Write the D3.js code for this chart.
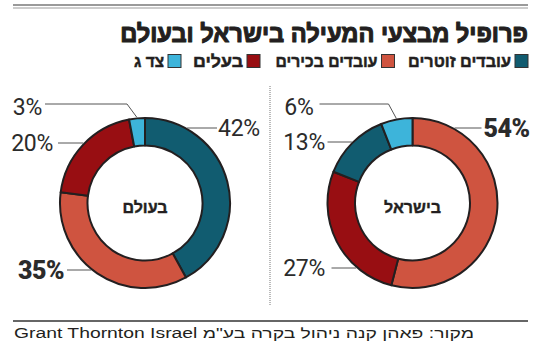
<!DOCTYPE html>
<html>
<head>
<meta charset="utf-8">
<script src="https://cdn.jsdelivr.net/npm/d3@7"></script>
<style>
  html, body { margin: 0; padding: 0; background: #fff; }
  svg { display: block; }
</style>
</head>
<body>
<svg id="chart" width="550" height="343"></svg>
<script>
// ---------- data ----------
const titleText = "פרופיל מבצעי המעילה בישראל ובעולם";
const categories = ["עובדים זוטרים", "עובדים בכירים", "בעלים", "צד ג"];
const regionNames = ["בעולם", "בישראל"];
// values in categories order
const worldValues = [42, 35, 20, 3];
const israelValues = [13, 54, 27, 6];
// drawing order (clockwise from 12 o'clock) as category indices
const worldOrder = [0, 1, 2, 3];
const israelOrder = [1, 2, 0, 3];
const sourceText = "מקור: פאהן קנה ניהול בקרה בע\"מ Grant Thornton Israel";

// ---------- styles / layout ----------
const colors = d3.scaleOrdinal().domain(categories)
  .range(["#115c70", "#cf5440", "#980e12", "#3db4da"]);
const emphasised = categories[1];
const hebFont = "'Liberation Sans', 'DejaVu Sans', sans-serif";
const numFont = "Roboto, 'Liberation Sans', sans-serif";

const svg = d3.select("#chart");

// helper: place a right-aligned text whose width is stretched to fit [right-w, right]
function fitText(parent, txt, right, baseline, width, attrs) {
  const g = parent.append("g");
  const t = g.append("text").attr("x", 0).attr("y", 0)
    .attr("text-anchor", "end").text(txt);
  Object.entries(attrs).forEach(([k, v]) => t.attr(k, v));
  const w = t.node().getComputedTextLength() || width;
  g.attr("transform", `translate(${right},${baseline}) scale(${width / w},1)`);
  return t;
}

// top rules
svg.append("line").attr("x1", 13).attr("x2", 528).attr("y1", 5).attr("y2", 5)
  .attr("stroke", "#9a9a9a").attr("stroke-width", 2);
svg.append("line").attr("x1", 13).attr("x2", 528).attr("y1", 8).attr("y2", 8)
  .attr("stroke", "#9a9a9a").attr("stroke-width", 1);

// title
fitText(svg, titleText, 528, 42, 408, {
  "font-family": hebFont, "font-weight": 900, "font-size": 25, "fill": "#231f20",
  "stroke": "#231f20", "stroke-width": 1.1, "stroke-linejoin": "round"
});

// legend (box to the right of each label, RTL)
const legendBoxRight = [528, 394.5, 260, 181];
const legendTextW = [103, 102, 50, 30];
const legend = svg.append("g");
categories.forEach((c, i) => {
  const bx = legendBoxRight[i];
  legend.append("rect")
    .attr("x", bx - 13).attr("y", 54.5).attr("width", 13).attr("height", 13)
    .attr("fill", colors(c)).attr("stroke", "#333").attr("stroke-width", 1);
  fitText(legend, c, bx - 17, 67, legendTextW[i], {
    "font-family": hebFont, "font-weight": 700, "font-size": 17, "fill": "#231f20",
    "stroke": "#231f20", "stroke-width": 0.5
  });
});

// dotted divider
svg.append("line").attr("x1", 270).attr("x2", 270).attr("y1", 86).attr("y2", 306)
  .attr("stroke", "#777").attr("stroke-width", 1).attr("stroke-dasharray", "1,1");

// bottom rule + source
svg.append("line").attr("x1", 13).attr("x2", 528).attr("y1", 321).attr("y2", 321)
  .attr("stroke", "#333").attr("stroke-width", 1.5);
svg.append("text")
  .attr("x", 474).attr("y", 338)
  .attr("direction", "rtl").attr("text-anchor", "start")
  .attr("font-family", hebFont).attr("font-size", 14).attr("fill", "#231f20")
  .attr("textLength", 460).attr("lengthAdjust", "spacingAndGlyphs")
  .text(sourceText);

// ---------- donuts ----------
const R_OUT = 85, R_IN = 57.5;
const arc = d3.arc().innerRadius(R_IN).outerRadius(R_OUT);
const pie = d3.pie().sort(null).value(d => d.value);

// label layout per category: side, line y offset, line end x, text x (relative to centre)
const donuts = [
  { cx: 145, cy: 203, name: regionNames[0], values: worldValues, order: worldOrder,
    layout: {
      0: { side: 1, ly: -75, lx: 72, tx: 73, by: 8 },
      1: { side: -1, ly: 67, lx: -78, tx: -81, by: 9 },
      2: { side: -1, ly: -60, lx: -87, tx: -92, by: 8 },
      3: { elbow: true, ly: -99, ex: -18, lx: -100, tx: -103, by: 11 }
    } },
  { cx: 412.5, cy: 203, name: regionNames[1], values: israelValues, order: israelOrder,
    layout: {
      1: { side: 1, ly: -75, lx: 69, tx: 71, by: 9 },
      2: { side: -1, ly: 65, lx: -81, tx: -87.5, by: 8 },
      0: { side: -1, ly: -61, lx: -85, tx: -87.5, by: 8 },
      3: { elbow: true, ly: -99, ex: -24, lx: -93, tx: -99, by: 11 }
    } }
];

donuts.forEach(dn => {
  const data = dn.order.map(ci => ({ cat: categories[ci], ci: ci, value: dn.values[ci] }));
  const g = svg.append("g").attr("transform", `translate(${dn.cx},${dn.cy})`);
  const arcs = pie(data);

  g.selectAll("path").data(arcs).enter().append("path")
    .attr("d", arc)
    .attr("fill", d => colors(d.data.cat))
    .attr("stroke", "#231f20").attr("stroke-width", 2).attr("stroke-linejoin", "round");

  // centre label
  g.append("text").attr("x", 0).attr("y", 10)
    .attr("text-anchor", "middle")
    .attr("font-family", hebFont).attr("font-weight", 700).attr("font-size", 16)
    .attr("fill", "#231f20").attr("stroke", "#231f20").attr("stroke-width", 0.4)
    .text(dn.name);

  // value labels
  arcs.forEach(a => {
    const L = dn.layout[a.data.ci];
    const isBold = a.data.cat === emphasised;
    let pts;
    if (L.elbow) {
      const mid = (a.startAngle + a.endAngle) / 2;
      const px = (R_OUT + 1) * Math.sin(mid), py = -(R_OUT + 1) * Math.cos(mid);
      pts = [[px, py], [L.ex, L.ly], [L.lx, L.ly]];
    } else {
      const edge = Math.sqrt((R_OUT + 1) ** 2 - L.ly * L.ly) * L.side;
      pts = [[edge, L.ly], [L.lx, L.ly]];
    }
    g.append("path")
      .attr("d", d3.line()(pts))
      .attr("fill", "none").attr("stroke", "#555").attr("stroke-width", 1);
    const right = L.tx > 0;
    g.append("text")
      .attr("x", L.tx).attr("y", L.ly + L.by)
      .attr("text-anchor", right ? "start" : "end")
      .attr("font-family", numFont)
      .attr("font-weight", isBold ? 900 : 400)
      .attr("font-size", isBold ? 25 : 23)
      .attr("letter-spacing", isBold ? -0.5 : -0.3)
      .attr("fill", "#2b2b2b")
      .text(a.data.value + "%");
  });
});
</script>
</body>
</html>
